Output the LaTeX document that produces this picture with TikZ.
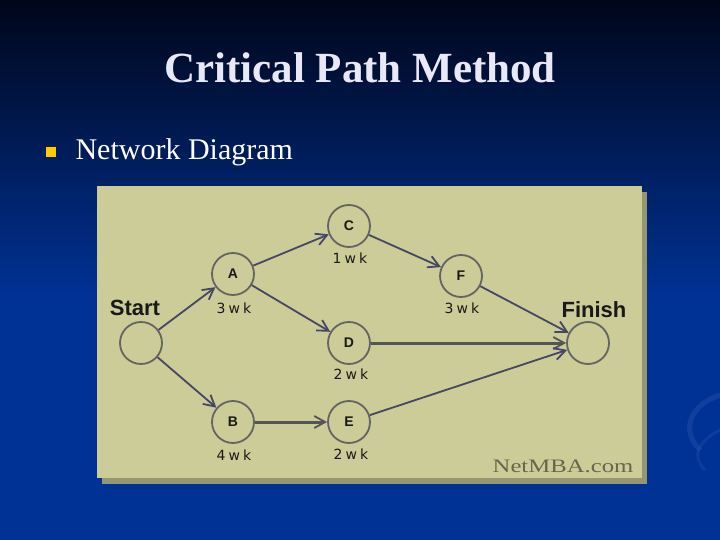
\documentclass[tikz,border=0pt]{standalone}
\usepackage{fontspec}
\usepackage{graphicx}
\setmainfont{Liberation Serif}
\setsansfont{Liberation Sans}
\newfontfamily\pixfont{DejaVu Sans}[LetterSpace=22]
\usepackage{tikz}
\usetikzlibrary{arrows.meta,positioning}

\definecolor{slideblue}{RGB}{0,50,150}
\definecolor{slidetop}{RGB}{0,6,26}
\definecolor{panelkhaki}{RGB}{204,204,153}
\definecolor{panelshadow}{RGB}{150,150,112}
\definecolor{ringgray}{RGB}{100,100,100}
\definecolor{arrowslate}{RGB}{70,70,102}
\definecolor{titlewhite}{RGB}{232,232,246}
\definecolor{bulletgold}{RGB}{255,204,0}

\begin{document}
\begin{tikzpicture}[x=1pt, y=-1pt,
  evt/.style={circle, draw=ringgray, line width=1.8pt, minimum size=42pt, inner sep=0pt,
    font=\sffamily\bfseries\fontsize{14}{14}\selectfont, text=black!90},
  dur/.style={font=\pixfont\fontsize{14}{14}\selectfont, text=black!90},
  endlabel/.style={font=\sffamily\bfseries\fontsize{22}{22}\selectfont, text=black!90},
  link/.style={arrowslate, line width=1.8pt, -{Straight Barb[length=11pt,width=12pt,line width=1.8pt]}},
  heavylink/.style={link, draw=ringgray!85!black, line width=3pt}]
\useasboundingbox (0,0) rectangle (720,540);

% === BACKGROUND ===
\shade[top color=slidetop, bottom color=slideblue] (0,0) rectangle (720,300);
\fill[slideblue] (0,299) rectangle (720,540);
\draw[line width=5pt, slideblue!85!white, opacity=0.45] (720,395) .. controls (690,405) and (680,430) .. (700,450);
\draw[line width=3pt, slideblue!85!white, opacity=0.35] (720,430) .. controls (700,440) and (690,455) .. (705,470);

% === TITLE ===
\node[font=\bfseries\fontsize{43}{43}\selectfont, text=titlewhite] (title) at (360,68) {Critical Path Method};

% === BULLET ===
\fill[bulletgold] (46,147) rectangle (56,157);
\node[font=\fontsize{30}{30}\selectfont, text=white, anchor=west] (bullet) at (72,152) {Network Diagram};

% === PANEL ===
\fill[panelshadow] (102,192) rectangle (647,484);
\fill[panelkhaki] (97,186) rectangle (642,478);
\node[font=\fontsize{19}{19}\selectfont, text=black!50!panelkhaki] (credit) at (563,466) {\scalebox{1.3}[1]{NetMBA.com}};

% === EVENTS ===
\node[evt] (start)  at (141,343) {};
\node[evt] (A)      at (233,274) {A};
\node[evt] (C)      at (349,226) {C};
\node[evt] (F)      at (461,276) {F};
\node[evt] (D)      at (349,343) {D};
\node[evt] (B)      at (233,422) {B};
\node[evt] (E)      at (349,422) {E};
\node[evt] (finish) at (588,343) {};

% labels
\node[endlabel] (startlbl)  at (135,308) {Start};
\node[endlabel] (finishlbl) at (594,310) {Finish};
\node[dur] (durA) at (234,308) {3wk};
\node[dur] (durC) at (350,258) {1wk};
\node[dur] (durF) at (462,308) {3wk};
\node[dur] (durD) at (351,374) {2wk};
\node[dur] (durB) at (234,455) {4wk};
\node[dur] (durE) at (351,454) {2wk};

% === ACTIVITIES ===
\draw[link] (start) -- (A);
\draw[link] (start) -- (B);
\draw[link] (A) -- (C);
\draw[link] (A) -- (D);
\draw[link] (C) -- (F);
\draw[heavylink] (B) -- (E);
\draw[heavylink] (D) -- (finish);
\draw[link] (F) -- (finish);
\draw[link] (E) -- (finish);

\end{tikzpicture}
\end{document}
